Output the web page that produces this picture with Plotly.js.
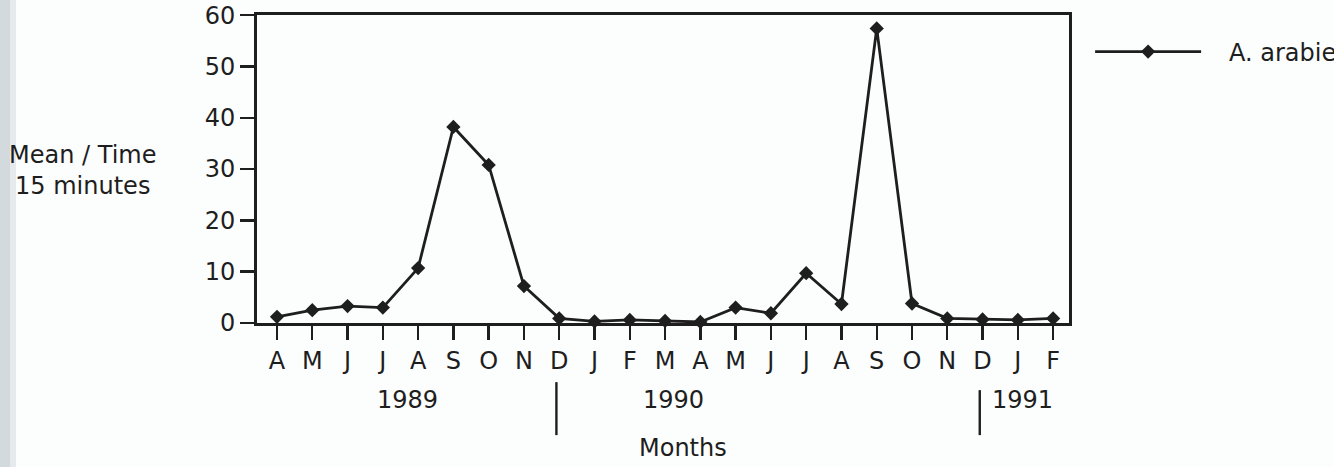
<!DOCTYPE html>
<html>
<head>
<meta charset="utf-8">
<script src="https://cdn.plot.ly/plotly-3.0.1.min.js"></script>
<style>
  html, body { margin: 0; padding: 0; background: #ffffff; }
  #chart { width: 1334px; height: 467px; }
</style>
</head>
<body>
<div id="chart"></div>
<script>
// Monthly catches, April 1989 to February 1991
const monthLabels = ["A","M","J","J","A","S","O","N","D","J","F","M","A","M","J","J","A","S","O","N","D","J","F"];
const arabiensisMean = [1.2, 2.5, 3.3, 3.0, 10.7, 38.2, 30.8, 7.2, 0.9, 0.3, 0.6, 0.4, 0.2, 3.0, 1.9, 9.7, 3.7, 57.4, 3.8, 0.9, 0.7, 0.6, 0.9];
const yearLabels = ["1989", "1990", "1991"];
const yearLabelPos = [3.71, 11.23, 21.12];
const yearBreaks = [8, 20];

const monthIdx = monthLabels.map((_, i) => i);
const ink = "#1e1e1e";
const fontFam = "'DejaVu Sans', sans-serif";
const fs = 24;

const trace = {
  x: monthIdx,
  y: arabiensisMean,
  type: "scatter",
  mode: "lines+markers",
  name: "\u00a0\u00a0\u00a0A. arabiensis",
  line: { color: ink, width: 2.8 },
  marker: { symbol: "diamond", size: 11, color: ink },
  cliponaxis: false
};

const annotations = yearLabels.map((t, i) => ({
  text: t, x: yearLabelPos[i], xref: "x", y: -0.25, yref: "paper",
  xanchor: "center", yanchor: "middle",
  showarrow: false, font: { size: fs, color: ink, family: fontFam }
}));
annotations.push({
  text: "Months", x: 11.5, xref: "x", y: -0.406, yref: "paper",
  xanchor: "center", yanchor: "middle",
  showarrow: false, font: { size: fs, color: ink, family: fontFam }
});
annotations.push({
  text: "Mean / Time<br>15 minutes", x: -0.2155, xref: "paper", y: 0.494, yref: "paper",
  xanchor: "center", yanchor: "middle",
  showarrow: false, align: "center", font: { size: fs, color: ink, family: fontFam }
});

// year separators below the month axis
const shapes = yearBreaks.map((b, i) => ({
  type: "line", xref: "x", yref: "paper",
  x0: b - 0.08, x1: b - 0.08, y0: i === 0 ? -0.192 : -0.218, y1: -0.364,
  line: { color: ink, width: 2.4 }
}));
// shaded page edge on the far left
shapes.push({ type: "rect", xref: "paper", yref: "paper", layer: "below",
  x0: -257 / 812, x1: -247 / 812, y0: -144 / 308, y1: 1 + 15 / 308,
  line: { width: 0 }, fillcolor: "#d3dadd" });
shapes.push({ type: "rect", xref: "paper", yref: "paper", layer: "below",
  x0: -247 / 812, x1: -241 / 812, y0: -144 / 308, y1: 1 + 15 / 308,
  line: { width: 0 }, fillcolor: "#e6eaec" });

const layout = {
  width: 1334, height: 467,
  margin: { l: 257, r: 265, t: 15, b: 144, autoexpand: false },
  paper_bgcolor: "#fcfdfd", plot_bgcolor: "#fcfdfd",
  font: { family: fontFam, color: ink, size: fs },
  showlegend: true,
  legend: {
    x: 1.026, y: 0.88, xanchor: "left", yanchor: "middle",
    itemwidth: 106, bgcolor: "rgba(0,0,0,0)",
    font: { size: fs, color: ink, family: fontFam }
  },
  xaxis: {
    range: [-0.567, 22.45],
    tickvals: monthIdx, ticktext: monthLabels,
    showgrid: false, zeroline: false,
    showline: true, mirror: true, linecolor: ink, linewidth: 3,
    ticks: "outside", ticklen: 14, tickwidth: 2.4, tickcolor: ink,
    tickfont: { size: fs, color: ink, family: fontFam }
  },
  yaxis: {
    range: [0, 60.02], tickvals: [0, 10, 20, 30, 40, 50, 60],
    showgrid: false, zeroline: false,
    showline: true, mirror: true, linecolor: ink, linewidth: 3,
    ticks: "outside", ticklen: 14, tickwidth: 2.4, tickcolor: ink,
    tickfont: { size: fs, color: ink, family: fontFam }
  },
  annotations: annotations,
  shapes: shapes
};

Plotly.newPlot("chart", [trace], layout, { displayModeBar: false, staticPlot: true });
</script>
</body>
</html>
